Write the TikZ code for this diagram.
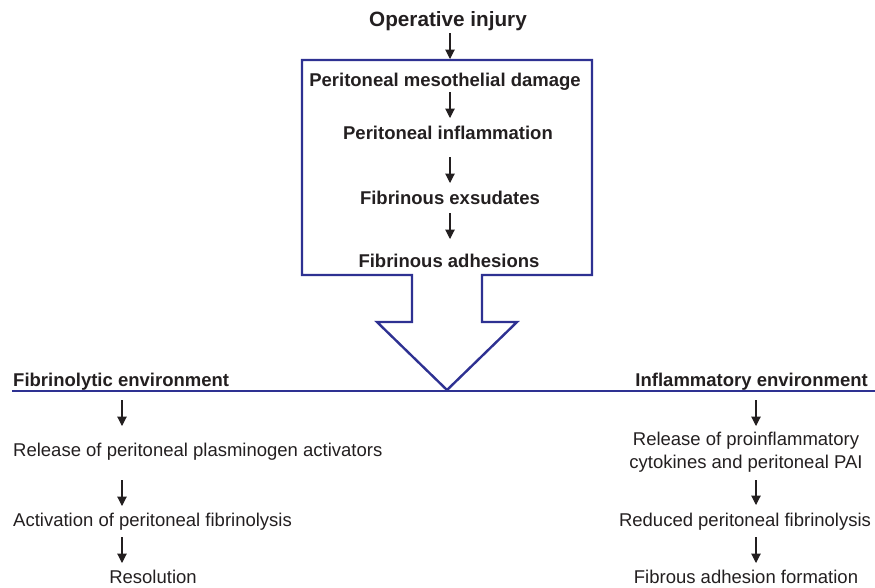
\documentclass[tikz,border=0pt]{standalone}
\usepackage{fontspec}
\setmainfont{Liberation Sans}
\usetikzlibrary{arrows.meta}
\definecolor{txt}{HTML}{231F20}
\definecolor{frame}{HTML}{2E3192}
\begin{document}
\begin{tikzpicture}[x=1pt,y=-1pt,
  lbl/.style={inner sep=0pt,text=txt,font=\fontsize{18.5}{22}\selectfont},
  blbl/.style={lbl,font=\fontsize{18.5}{22}\selectfont\bfseries},
  flow/.style={draw=txt,line width=1.1pt,-{Triangle[width=9.5pt,length=9.5pt]}},
  outline/.style={draw=frame,line width=2.4pt,line join=miter}]
\useasboundingbox (0,0) rectangle (875,587);
% box + big arrow
\draw[outline] (302,60) -- (592,60) -- (592,275) -- (482,275) -- (482,322) -- (517,322)
  -- (447,390) -- (377,322) -- (412,322) -- (412,275) -- (302,275) -- cycle;
\draw[draw=frame,line width=2pt] (12,391) coordinate (L) -- (875,391) coordinate (R);
% top texts
\node[blbl,font=\fontsize{20.7}{24}\selectfont\bfseries] (op) at (448,21) {Operative injury};
\node[blbl] (md) at (445,82) {Peritoneal mesothelial damage};
\node[blbl] (pi) at (448,133) {Peritoneal inflammation};
\node[blbl] (fe) at (450,198) {Fibrinous exsudates};
\node[blbl] (fa) at (449,261) {Fibrinous adhesions};
\coordinate (bt) at (450,59);
\draw[flow] (450,33) -- (bt);
\draw[flow] (450,92) -- (450,118);
\draw[flow] (450,157) -- (450,183);
\draw[flow] (450,213) -- (450,239);
% left branch
\node[blbl,anchor=west] (fl) at (13,382) {Fibrinolytic environment};
\node[lbl,anchor=west] (rp) at (13,452) {Release of peritoneal plasminogen activators};
\node[lbl,anchor=west] (af) at (13,522) {Activation of peritoneal fibrinolysis};
\node[lbl] (rs) at (153,577) {Resolution};
\draw[flow] (122,400) -- (122,426);
\draw[flow] (122,480) -- (122,506);
\draw[flow] (122,537) -- (122,563);
% right branch
\node[blbl,anchor=east] (ie) at (868,382) {Inflammatory environment};
\node[lbl,align=center] (rc) at (746,452) {Release of proinflammatory\\[1pt]cytokines and peritoneal PAI};
\node[lbl] (rf) at (745,522) {Reduced peritoneal fibrinolysis};
\node[lbl] (fo) at (746,577) {Fibrous adhesion formation};
\draw[flow] (756,400) -- (756,426);
\draw[flow] (756,480) -- (756,505);
\draw[flow] (756,537) -- (756,563);
\end{tikzpicture}
\end{document}
